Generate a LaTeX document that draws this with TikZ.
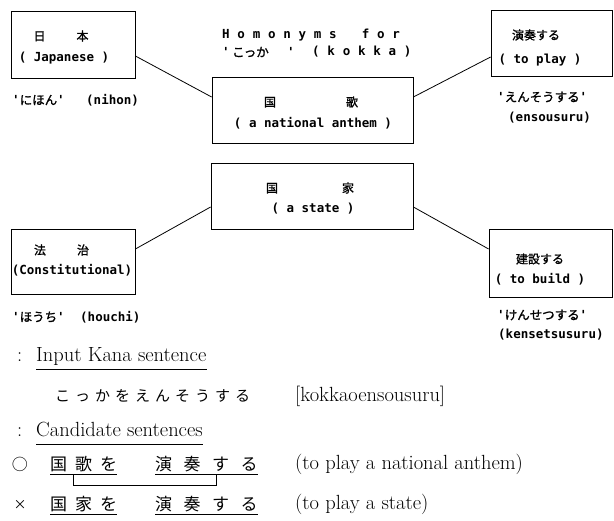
\documentclass[tikz,border=0pt]{standalone}
\usepackage{fontspec}
\newfontfamily\cjk{Noto Sans CJK JP}
\newfontfamily\cjkb{Noto Sans CJK JP}[FakeBold=1.2]
\newfontfamily\mono{DejaVu Sans Mono}
\newfontfamily\hdr{DejaVu Sans Mono}[LetterSpace=62]
\newcommand\apo{{\mono\bfseries\fontsize{12.5}{14}\selectfont'}}
\tikzset{
  box/.style={draw, line width=0.8pt, rectangle, inner sep=0pt},
  bt/.style={font=\mono\bfseries\fontsize{12.5}{14}\selectfont, inner sep=0pt},
  jt/.style={font=\cjkb\fontsize{12}{14}\selectfont, inner sep=0pt},
  jl/.style={font=\cjkb\fontsize{12.5}{14}\selectfont, inner sep=0pt, anchor=west},
  ht/.style={font=\hdr\bfseries\fontsize{12.5}{14}\selectfont, inner sep=0pt, anchor=west},
  rm/.style={font=\fontsize{20.5}{24}\selectfont, inner sep=0pt, anchor=base west},
  jb/.style={font=\cjk\fontsize{17}{20}\selectfont, inner sep=0pt, anchor=west},
  jk/.style={font=\cjk\fontsize{15}{18}\selectfont, inner sep=0pt, anchor=west},
  conn/.style={line width=0.8pt},
  uline/.style={line width=0.8pt},
}
\begin{document}
\begin{tikzpicture}[x=1pt,y=-1pt]
\useasboundingbox (0,0) rectangle (614,521);
% boxes
\node[box, minimum width=124pt, minimum height=67pt] (A) at (73,44.5) {};
\node[box, minimum width=201pt, minimum height=66pt] (B) at (312.5,110) {};
\node[box, minimum width=121pt, minimum height=66pt] (C) at (551.5,43) {};
\node[box, minimum width=202pt, minimum height=66pt] (D) at (312,196) {};
\node[box, minimum width=124pt, minimum height=65pt] (E) at (73,261.5) {};
\node[box, minimum width=123pt, minimum height=68pt] (F) at (550.5,263) {};
% connectors
\draw[conn] ([yshift=-11.5pt]A.east) -- ([yshift=13pt]B.west);
\draw[conn] ([yshift=13pt]B.east) -- ([yshift=-14pt]C.west);
\draw[conn] ([yshift=-11pt]D.west) -- ([yshift=12.5pt]E.east);
\draw[conn] ([yshift=-11pt]D.east) -- ([yshift=14pt]F.west);
% header
\node[ht] (h1) at (222,35) {Homonyms\hspace{10pt} for};
\node[ht] (h2a) at (222,52) {'};
\node[jl] (h2b) at (232,52) {こっか};
\node[ht] (h2c) at (287,52) {'};
\node[ht] (h2d) at (312,52) {(kokka)};
% box A
\node[jt] (a1) at (61,36) {日\hspace{31pt}本};
\node[bt] (a2) at (64,58) {( Japanese )};
\node[jl] (a3) at (12,100) {\apo にほん\apo};
\node[bt, anchor=west] (a4) at (86,100) {(nihon)};
% box B
\node[jt] (b1) at (311,102) {国\hspace{70pt}歌};
\node[bt] (b2) at (313,123) {( a national anthem )};
% box C
\node[jt] (c1) at (536,35) {演奏する};
\node[bt] (c2) at (540,60) {( to play )};
\node[jl] (c3) at (497,97) {\apo えんそうする\apo};
\node[bt, anchor=west] (c4) at (508,118) {(ensousuru)};
% box D
\node[jt] (d1) at (310,188) {国\hspace{64pt}家};
\node[bt] (d2) at (313,209) {( a state )};
% box E
\node[jt] (e1) at (61.5,250) {法\hspace{31pt}治};
\node[bt] (e2) at (72,270) {(Constitutional)};
\node[jl] (e3) at (12,317) {\apo ほうち\apo};
\node[bt, anchor=west] (e4) at (80,317) {(houchi)};
% box F
\node[jt] (f1) at (540,259) {建設する};
\node[bt] (f2) at (540,279) {( to build )};
\node[jl] (f3) at (497,315) {\apo けんせつする\apo};
\node[bt, anchor=west] (f4) at (498,335) {(kensetsusuru)};
% bottom part
\node[rm] (s1) at (17,362) {:};
\node[rm] (s2) at (36,362) {Input Kana sentence};
\draw[uline] ([yshift=-7pt]s2.base west) -- ([yshift=-7pt]s2.base east);
\node[jk] (s3) at (55,396) {こ\hspace{5pt}っ\hspace{5pt}か\hspace{5pt}を\hspace{5pt}え\hspace{5pt}ん\hspace{5pt}そ\hspace{5pt}う\hspace{5pt}す\hspace{5pt}る};
\node[rm] (s4) at (295,402) {[kokkaoensousuru]};
\node[rm] (s5) at (17,437) {:};
\node[rm] (s6) at (36,437) {Candidate sentences};
\draw[uline] ([yshift=-7pt]s6.base west) -- ([yshift=-7pt]s6.base east);
% row 1
\node[font=\cjk\fontsize{16}{18}\selectfont, inner sep=0pt] (o1) at (20,464) {○};
\node[jb] (r1a) at (50,464) {国\hspace{8pt}歌\hspace{8pt}を};
\node[jb] (r1b) at (155,464) {演\hspace{11.5pt}奏\hspace{11.5pt}す\hspace{11.5pt}る};
\draw[uline] ([yshift=-2pt]r1a.south west) -- ([yshift=-2pt]r1a.south east);
\draw[uline] ([yshift=-2pt]r1b.south west) -- ([yshift=-2pt]r1b.south east);
\coordinate (bl) at (73,475);
\coordinate (br) at (216,475);
\draw[line width=1pt] (bl) -- ++(0,11) -| (br);
\node[rm] (r1c) at (295,470) {(to play a national anthem)};
% row 2
\node[font=\cjk\fontsize{13}{14}\selectfont, inner sep=0pt] (x1) at (20,505) {×};
\node[jb] (r2a) at (50,504) {国\hspace{8pt}家\hspace{8pt}を};
\node[jb] (r2b) at (155,504) {演\hspace{11.5pt}奏\hspace{11.5pt}す\hspace{11.5pt}る};
\draw[uline] ([yshift=-2pt]r2a.south west) -- ([yshift=-2pt]r2a.south east);
\draw[uline] ([yshift=-2pt]r2b.south west) -- ([yshift=-2pt]r2b.south east);
\node[rm] (r2c) at (295,510) {(to play a state)};
\end{tikzpicture}
\end{document}
